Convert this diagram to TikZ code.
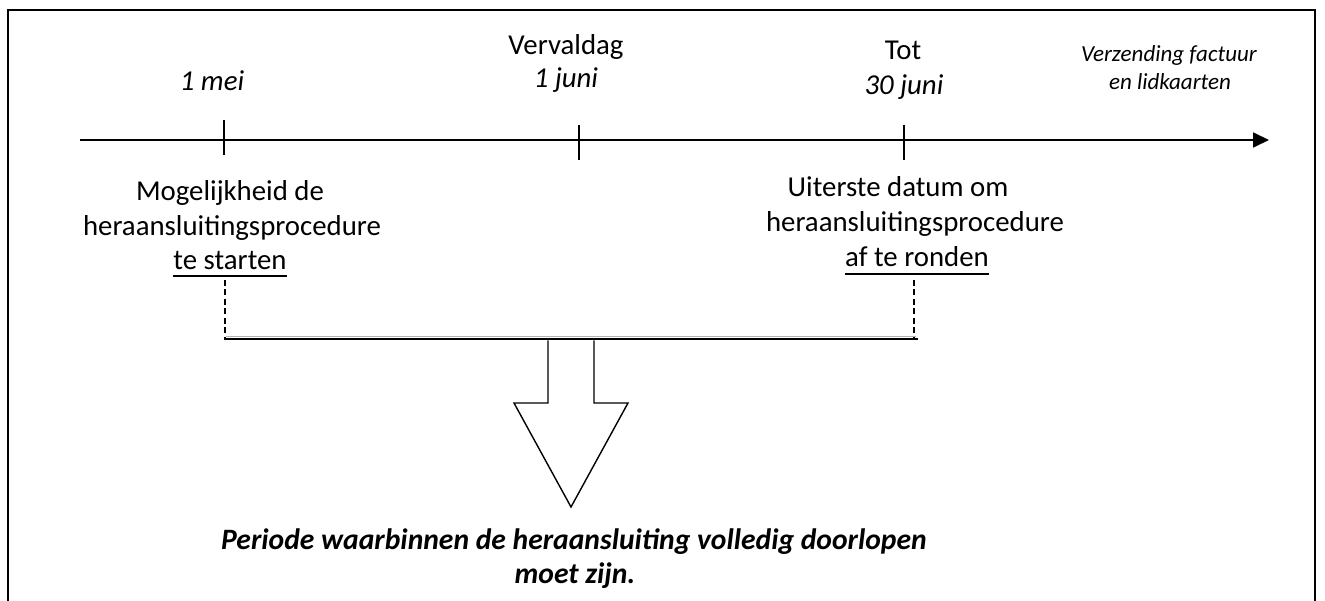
\documentclass[tikz,border=0pt]{standalone}
\usepackage{fontspec}
\setmainfont{Carlito}
\usetikzlibrary{arrows.meta}
\begin{document}
\begin{tikzpicture}[x=1pt,y=-1pt,
  txt/.style={anchor=base,inner sep=0pt,font=\fontsize{28.8}{35}\selectfont},
  itx/.style={txt,font=\fontsize{28.8}{35}\selectfont\itshape},
  smallit/.style={anchor=base,inner sep=0pt,font=\fontsize{23}{28}\selectfont\itshape},
  boldit/.style={anchor=base,inner sep=0pt,font=\fontsize{29.6}{35}\selectfont\bfseries\itshape},
  frame/.style={line width=2.6pt},
  axis/.style={line width=1.8pt,-{Triangle[length=16pt,width=15pt]}},
  tickline/.style={line width=1.3pt},
  ul/.style={line width=1.8pt},
  dashline/.style={line width=1.3pt,dash pattern=on 6pt off 3.5pt},
  period/.style={line width=2.6pt},
  blockarrow/.style={line width=1.4pt,fill=white}]
\useasboundingbox (0,0) rectangle (1325,601);
\clip (0,0) rectangle (1325,601);
% frame
\draw[frame] (8,610) -- (8,10) -- (1315,10) -- (1315,610);
% axis
\coordinate (a0) at (80,140);
\coordinate (a1) at (1269,140);
\draw[axis] (a0) -- (a1);
% ticks
\coordinate (t1a) at (224,120); \coordinate (t1b) at (224,155);
\coordinate (t2a) at (579,125); \coordinate (t2b) at (579,160);
\coordinate (t3a) at (904,125); \coordinate (t3b) at (904,160);
\draw[tickline] (t1a) -- (t1b);
\draw[tickline] (t2a) -- (t2b);
\draw[tickline] (t3a) -- (t3b);
% top labels
\node[itx] (mei) at (212,91) {1 mei};
\node[txt] (verv) at (566,55) {Vervaldag};
\node[itx] (juni1) at (566,88) {1 juni};
\node[txt] (tot) at (903,60) {Tot};
\node[itx] (juni30) at (904,95) {30 juni};
\node[smallit] (verz1) at (1169,62) {Verzending factuur};
\node[smallit] (verz2) at (1170,90) {en lidkaarten};
% left block
\node[txt] (l1) at (230,201) {Mogelijkheid de};
\node[txt] (l2) at (232,236) {heraansluitingsprocedure};
\node[txt] (l3) at (230,270) {te starten};
\draw[ul] ([yshift=-6pt]l3.base west) -- ([yshift=-6pt]l3.base east);
% right block
\node[txt] (r1) at (898,197) {Uiterste datum om};
\node[txt] (r2) at (915,232) {heraansluitingsprocedure};
\node[txt] (r3) at (917,267) {af te ronden};
\draw[ul] ([yshift=-7pt]r3.base west) -- ([yshift=-7pt]r3.base east);
% dashed connectors
\coordinate (dl0) at (225,280); \coordinate (dl1) at (225,338);
\coordinate (dr0) at (914,280); \coordinate (dr1) at (914,338);
\draw[dashline] (dl0) -- (dl1);
\draw[dashline] (dr0) -- (dr1);
% period line
\coordinate (p0) at (224,339); \coordinate (p1) at (918,339);
\draw[period] (p0) -- (p1);
\draw[line width=1.2pt,gray!60] (226,336.2) -- (916,336.2);
% block arrow
\draw[blockarrow] (548,340.5) -- (548,403) -- (514,403) -- (571,507) -- (628,403) -- (594,403) -- (594,340.5);
% bottom text
\node[boldit] (b1) at (574,549) {Periode waarbinnen de heraansluiting volledig doorlopen};
\node[boldit] (b2) at (575,583) {moet zijn.};
\end{tikzpicture}
\end{document}
